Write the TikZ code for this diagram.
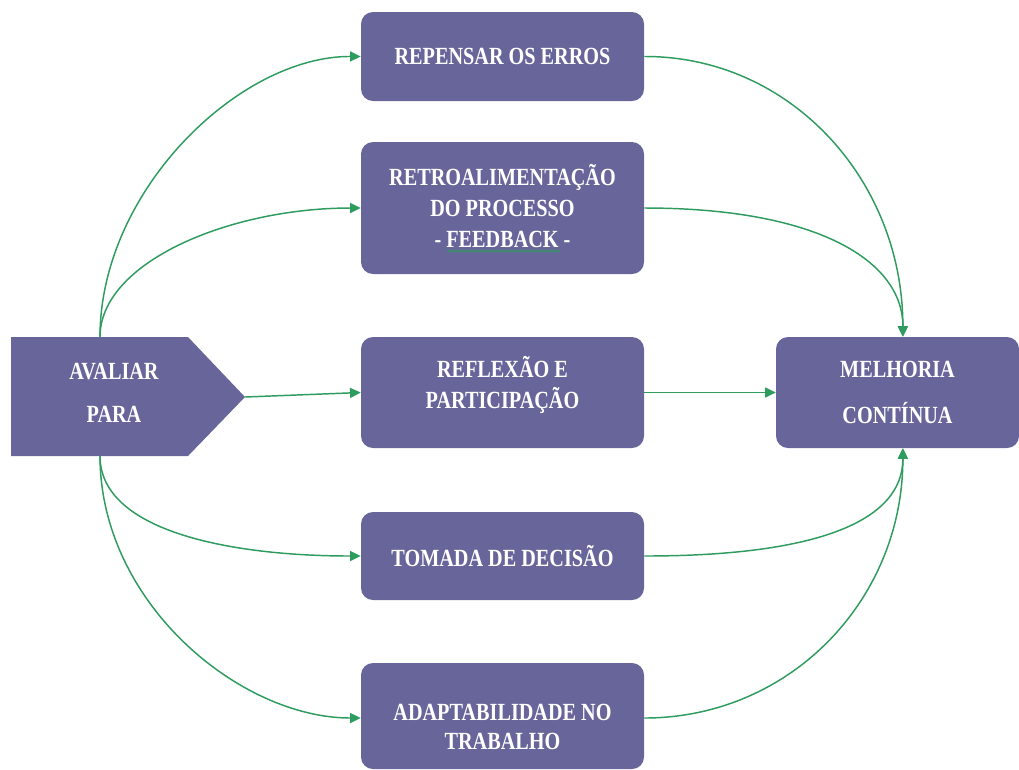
\documentclass[tikz,border=0pt]{standalone}
\usepackage{fontspec}
\setmainfont{Liberation Serif}[FakeStretch=0.82]
\usetikzlibrary{arrows.meta,decorations.pathmorphing}
\definecolor{boxc}{HTML}{67659A}
\definecolor{arr}{HTML}{2E9B5F}
\tikzset{
  box/.style={draw=none,fill=boxc,rounded corners=9pt,inner sep=0pt},
  txt/.style={text=white,align=center,font=\fontsize{18.5}{23}\selectfont\bfseries,inner sep=0pt},
  conn/.style={draw=arr,line width=1.1pt,-{Triangle[length=8pt,width=7.5pt]}},
}
\begin{document}
\begin{tikzpicture}[x=0.75pt,y=-0.75pt]
\useasboundingbox (0,0) rectangle (1019,769);
% pentagon
\fill[boxc] (11,337) -- (188,337) -- (245,397) -- (188,456) -- (11,456) -- cycle;
\node[txt,font=\fontsize{18.5}{32}\selectfont\bfseries] (av) at (114,393) {AVALIAR\\PARA};
\coordinate (avt) at (100,337);
\coordinate (avb) at (100,456);
\coordinate (avp) at (245,397);

\node[box,minimum width=212.25pt,minimum height=66.75pt] (rep) at (502.5,56.5) {};
\node[txt] (repT) at (rep.center) {REPENSAR OS ERROS};
\node[box,minimum width=212.25pt,minimum height=99pt] (ret) at (502.5,208) {};
\node[txt,font=\fontsize{18.5}{23.5}\selectfont\bfseries] (retT) at (502.5,206) {RETROALIMENTAÇÃO\\DO PROCESSO\\- FEEDBACK -};
\node[box,minimum width=212.25pt,minimum height=83.25pt] (ref) at (502.5,392.5) {};
\node[txt] (refT) at (502.5,385) {REFLEXÃO E\\PARTICIPAÇÃO};
\node[box,minimum width=212.25pt,minimum height=66pt] (tom) at (502.5,556) {};
\node[txt] (tomT) at (tom.center) {TOMADA DE DECISÃO};
\node[box,minimum width=212.25pt,minimum height=79.5pt] (ada) at (502.5,716) {};
\node[txt,font=\fontsize{18.5}{22}\selectfont\bfseries] (adaT) at (502.5,727) {ADAPTABILIDADE NO\\TRABALHO};
\node[box,minimum width=182.25pt,minimum height=83.25pt] (mel) at (897.5,392.5) {};
\node[txt,font=\fontsize{18.5}{34}\selectfont\bfseries] (melT) at (mel.center) {MELHORIA\\CONTÍNUA};

% spell-check squiggle under FEEDBACK
\draw[draw=arr,line width=0.7pt,decorate,decoration={snake,amplitude=0.8pt,segment length=3pt}] (447,251) -- (560,251);

% left connectors
\draw[conn] (avt) .. controls (100,190) and (240,56) .. (rep.west);
\draw[conn] (avt) .. controls (100,262) and (230,208) .. (ret.west);
\draw[conn] (avp) -- (ref.west);
\draw[conn] (avb) .. controls (100,531) and (230,556) .. (tom.west);
\draw[conn] (avb) .. controls (100,603) and (240,718) .. ([yshift=-1.5pt]ada.west);

% right connectors
\draw[conn] (rep.east) .. controls (790,56) and (903,180) .. ([xshift=4pt]mel.north);
\draw[conn] (ret.east) .. controls (820,208) and (903,262) .. ([xshift=4pt]mel.north);
\draw[conn] (ref.east) -- (mel.west);
\draw[conn] (tom.east) .. controls (820,556) and (903,520) .. ([xshift=4pt]mel.south);
\draw[conn] ([yshift=-1.5pt]ada.east) .. controls (790,718) and (903,600) .. ([xshift=4pt]mel.south);
\end{tikzpicture}
\end{document}
